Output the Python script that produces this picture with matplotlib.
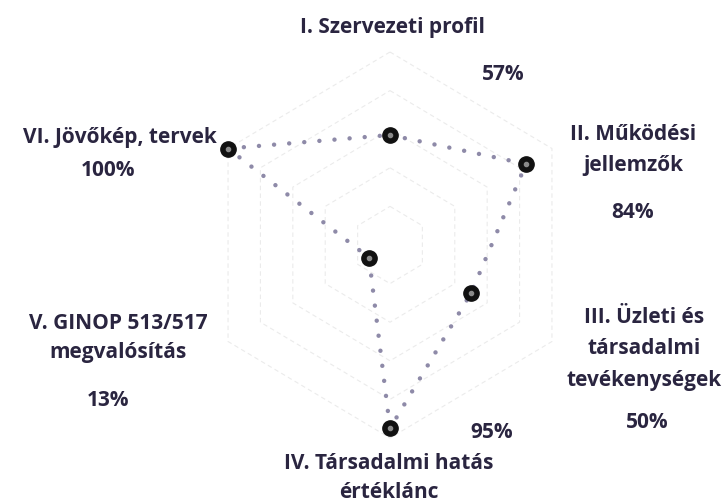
import numpy as np
import matplotlib.pyplot as plt

# Data
categories = ['I. Szervezeti profil', 'II. Működési\njellemzők',
              'III. Üzleti és\ntársadalmi\ntevékenységek',
              'IV. Társadalmi hatás\nértéklánc',
              'V. GINOP 513/517\nmegvalósítás', 'VI. Jövőkép, tervek']
values = [57, 84, 50, 95, 13, 100]
value_labels = ['57%', '84%', '50%', '95%', '13%', '100%']
grid_levels = [20, 40, 60, 80, 100]

W, H = 727, 503
fig = plt.figure(figsize=(W / 100, H / 100), dpi=100)
ax = fig.add_axes([0, 0, 1, 1])

# centre of the radar in pixels and pixel size of 100%
cx, cy, rx, ry = 390, 245, 187, 193
ax.set_xlim(-cx / rx, (W - cx) / rx)
ax.set_ylim(-(H - cy) / ry, cy / ry)
ax.axis('off')

n = len(categories)
angles = np.pi / 2 - np.arange(n) * 2 * np.pi / n

# hexagonal grid
for lev in grid_levels:
    r = lev / 100
    gx = np.append(r * np.cos(angles), r * np.cos(angles[0]))
    gy = np.append(r * np.sin(angles), r * np.sin(angles[0]))
    ax.plot(gx, gy, color='#ebebeb', lw=0.8, ls=(0, (4, 3)), zorder=1)

# data line
r = np.array(values) / 100
px = np.append(r * np.cos(angles), r[0] * np.cos(angles[0]))
py = np.append(r * np.sin(angles), r[0] * np.sin(angles[0]))
ax.plot(px, py, color='#8e8aa8', lw=3.2, ls=(0, (0.01, 3.4)),
        dash_capstyle='round', zorder=2)
ax.plot(px[:-1], py[:-1], 'o', color='#111111', ms=11, zorder=3)
ax.plot(px[:-1], py[:-1], 'o', color='#8a8a8a', ms=3, zorder=4)

# labels (pixel positions of the text centres)
def put(txt, x, y, size=15, ls=1.5):
    fig.text(x / W, 1 - y / H, txt, ha='center', va='center',
             fontsize=size, family='Open Sans', weight='bold',
             color='#2a2540', linespacing=ls)

put(categories[0], 392, 27)
put(value_labels[0], 503, 75)
put(categories[1], 633, 150, ls=1.65)
put(value_labels[1], 633, 212)
put(categories[2], 644, 349, ls=1.65)
put(value_labels[2], 647, 422)
put(value_labels[3], 492, 433)
put(categories[3], 389, 478)
put(categories[4], 118, 338)
put(value_labels[4], 108, 400)
put(categories[5], 120, 138)
put(value_labels[5], 108, 170)

fig.savefig('out.png', dpi=100)
